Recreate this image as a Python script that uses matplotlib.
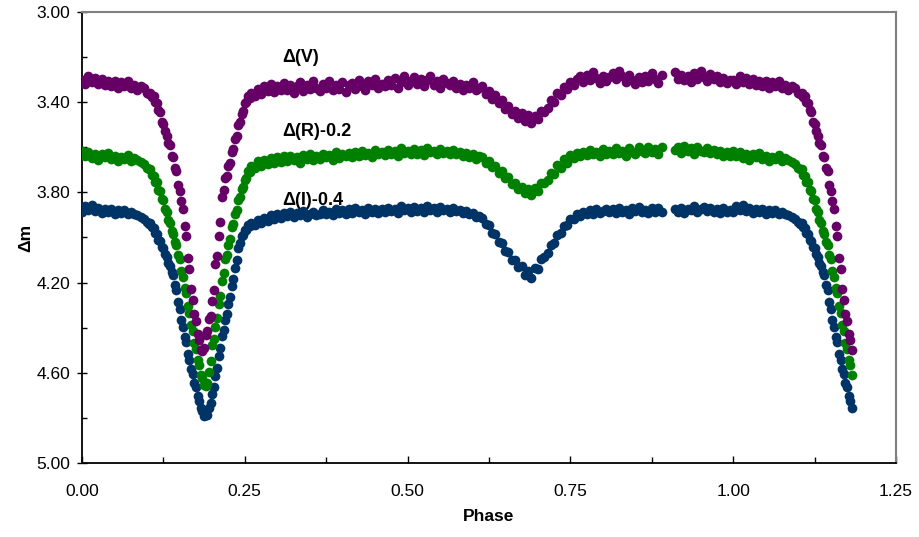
"""
Light curve of an eclipsing binary: V, R and I differential magnitudes vs phase.
"""

import matplotlib
matplotlib.use("Agg")
import matplotlib.pyplot as plt
from matplotlib.ticker import FormatStrFormatter, MultipleLocator

plt.rcParams["font.family"] = ["Liberation Sans", "DejaVu Sans"]

# --- data (phase 0..1, primary minimum repeated past 1.0) ---

# out of eclipse, before the primary minimum
phase_a = [0.000, 0.005, 0.010, 0.015, 0.020, 0.025, 0.030, 0.035, 0.040, 0.045,
           0.050, 0.055, 0.060, 0.065, 0.070, 0.075, 0.080, 0.085, 0.090, 0.095,
           0.100]
v_a = [3.300, 3.318, 3.282, 3.312, 3.292, 3.318, 3.298, 3.325, 3.305, 3.330,
       3.308, 3.335, 3.312, 3.328, 3.305, 3.338, 3.322, 3.345, 3.330, 3.338,
       3.360]
r_a = [3.615, 3.640, 3.622, 3.648, 3.628, 3.655, 3.630, 3.645, 3.625, 3.652,
       3.638, 3.660, 3.642, 3.650, 3.635, 3.662, 3.648, 3.655, 3.665, 3.672,
       3.690]
i_a = [3.885, 3.862, 3.878, 3.858, 3.882, 3.870, 3.892, 3.875, 3.888, 3.872,
       3.895, 3.880, 3.890, 3.878, 3.898, 3.885, 3.895, 3.902, 3.910, 3.918,
       3.932]

# primary minimum, denser sampling
phase_b = [0.1025, 0.1050, 0.1075, 0.1100, 0.1125, 0.1150, 0.1175, 0.1200, 0.1225, 0.1250,
           0.1275, 0.1300, 0.1325, 0.1350, 0.1375, 0.1400, 0.1425, 0.1450, 0.1475, 0.1500,
           0.1525, 0.1550, 0.1575, 0.1600, 0.1625, 0.1650, 0.1675, 0.1700, 0.1725, 0.1750,
           0.1775, 0.1800, 0.1825, 0.1850, 0.1875, 0.1900, 0.1925, 0.1950, 0.1975, 0.2000,
           0.2025, 0.2050, 0.2075, 0.2100, 0.2125, 0.2150, 0.2175, 0.2200, 0.2225, 0.2250,
           0.2275, 0.2300, 0.2325, 0.2350, 0.2375, 0.2400, 0.2425, 0.2450, 0.2475, 0.2500,
           0.2525, 0.2550, 0.2575, 0.2600]
v_b = [3.362, 3.358, 3.378, 3.372, 3.398, 3.402, 3.435, 3.442, 3.490, 3.495,
       3.528, 3.548, 3.580, 3.592, 3.640, 3.645, 3.690, 3.705, 3.768, 3.795,
       3.840, 3.875, 3.950, 3.995, 4.090, 4.140, 4.230, 4.275, 4.340, 4.372,
       4.430, 4.455, 4.500, 4.505, 4.490, 4.432, 4.415, 4.362, 4.348, 4.282,
       4.232, 4.118, 4.080, 3.992, 3.930, 3.822, 3.790, 3.735, 3.728, 3.682,
       3.668, 3.622, 3.608, 3.562, 3.548, 3.502, 3.488, 3.452, 3.438, 3.402,
       3.400, 3.372, 3.382, 3.358]
r_b = [3.695, 3.698, 3.722, 3.728, 3.752, 3.755, 3.788, 3.795, 3.828, 3.835,
       3.872, 3.885, 3.922, 3.935, 3.972, 3.985, 4.022, 4.035, 4.078, 4.095,
       4.148, 4.175, 4.222, 4.245, 4.302, 4.335, 4.388, 4.415, 4.468, 4.495,
       4.542, 4.565, 4.608, 4.625, 4.655, 4.658, 4.645, 4.595, 4.548, 4.475,
       4.448, 4.395, 4.358, 4.295, 4.258, 4.195, 4.158, 4.095, 4.078, 4.035,
       4.008, 3.955, 3.938, 3.895, 3.878, 3.835, 3.822, 3.785, 3.778, 3.745,
       3.738, 3.705, 3.708, 3.685]
i_b = [3.940, 3.935, 3.955, 3.958, 3.980, 3.985, 4.010, 4.015, 4.040, 4.045,
       4.075, 4.085, 4.115, 4.125, 4.155, 4.165, 4.210, 4.235, 4.285, 4.315,
       4.365, 4.395, 4.440, 4.465, 4.515, 4.545, 4.585, 4.605, 4.645, 4.665,
       4.705, 4.725, 4.755, 4.768, 4.790, 4.785, 4.785, 4.755, 4.735, 4.695,
       4.665, 4.615, 4.580, 4.525, 4.490, 4.435, 4.410, 4.365, 4.340, 4.295,
       4.265, 4.215, 4.185, 4.135, 4.100, 4.045, 4.025, 3.995, 3.990, 3.965,
       3.965, 3.945, 3.950, 3.935]

# rest of the cycle, secondary minimum near 0.69, small gap near 0.90
phase_c = [0.265, 0.270, 0.275, 0.280, 0.285, 0.290, 0.295, 0.300, 0.305, 0.310,
           0.315, 0.320, 0.325, 0.330, 0.335, 0.340, 0.345, 0.350, 0.355, 0.360,
           0.365, 0.370, 0.375, 0.380, 0.385, 0.390, 0.395, 0.400, 0.405, 0.410,
           0.415, 0.420, 0.425, 0.430, 0.435, 0.440, 0.445, 0.450, 0.455, 0.460,
           0.465, 0.470, 0.475, 0.480, 0.485, 0.490, 0.495, 0.500, 0.505, 0.510,
           0.515, 0.520, 0.525, 0.530, 0.535, 0.540, 0.545, 0.550, 0.555, 0.560,
           0.565, 0.570, 0.575, 0.580, 0.585, 0.590, 0.595, 0.600, 0.605, 0.610,
           0.615, 0.620, 0.625, 0.630, 0.635, 0.640, 0.645, 0.650, 0.655, 0.660,
           0.665, 0.670, 0.675, 0.680, 0.685, 0.690, 0.695, 0.700, 0.705, 0.710,
           0.715, 0.720, 0.725, 0.730, 0.735, 0.740, 0.745, 0.750, 0.755, 0.760,
           0.765, 0.770, 0.775, 0.780, 0.785, 0.790, 0.795, 0.800, 0.805, 0.810,
           0.815, 0.820, 0.825, 0.830, 0.835, 0.840, 0.845, 0.850, 0.855, 0.860,
           0.865, 0.870, 0.875, 0.880, 0.885, 0.890, 0.910,
           0.915, 0.920, 0.925, 0.930, 0.935, 0.940, 0.945, 0.950, 0.955, 0.960,
           0.965, 0.970, 0.975, 0.980, 0.985, 0.990, 0.995]
v_c = [3.372, 3.340, 3.365, 3.328, 3.352, 3.318, 3.355, 3.330, 3.348, 3.315,
       3.345, 3.322, 3.360, 3.330, 3.312, 3.350, 3.325, 3.342, 3.308, 3.338,
       3.352, 3.318, 3.335, 3.305, 3.345, 3.322, 3.340, 3.310, 3.355, 3.325,
       3.315, 3.340, 3.302, 3.330, 3.345, 3.308, 3.325, 3.295, 3.338, 3.318,
       3.330, 3.300, 3.322, 3.292, 3.338, 3.310, 3.285, 3.325, 3.305, 3.290,
       3.318, 3.295, 3.330, 3.302, 3.285, 3.322, 3.308, 3.338, 3.298, 3.315,
       3.325, 3.305, 3.335, 3.318, 3.345, 3.322, 3.338, 3.310, 3.348, 3.335,
       3.330, 3.365, 3.352, 3.385, 3.368, 3.402, 3.390, 3.432, 3.418, 3.452,
       3.438, 3.470, 3.448, 3.485, 3.455, 3.492, 3.460, 3.475, 3.440, 3.445,
       3.425, 3.392, 3.398, 3.360, 3.368, 3.332, 3.342, 3.310, 3.322, 3.295,
       3.285, 3.310, 3.278, 3.300, 3.268, 3.292, 3.315, 3.282, 3.305, 3.288,
       3.270, 3.298, 3.262, 3.285, 3.310, 3.278, 3.302, 3.320, 3.290, 3.312,
       3.285, 3.305, 3.272, 3.298, 3.315, 3.280, 3.268,
       3.295, 3.278, 3.302, 3.285, 3.312, 3.270, 3.296, 3.262, 3.288, 3.305,
       3.275, 3.298, 3.285, 3.310, 3.292, 3.315, 3.300]
r_c = [3.690, 3.662, 3.682, 3.655, 3.675, 3.648, 3.668, 3.645, 3.665, 3.640,
       3.660, 3.638, 3.655, 3.642, 3.668, 3.635, 3.652, 3.630, 3.658, 3.640,
       3.650, 3.628, 3.645, 3.635, 3.655, 3.622, 3.648, 3.630, 3.640, 3.625,
       3.642, 3.620, 3.638, 3.615, 3.635, 3.625, 3.645, 3.612, 3.630, 3.622,
       3.635, 3.610, 3.628, 3.618, 3.638, 3.605, 3.625, 3.615, 3.632, 3.608,
       3.628, 3.612, 3.635, 3.605, 3.622, 3.615, 3.632, 3.608, 3.625, 3.618,
       3.630, 3.612, 3.628, 3.620, 3.638, 3.625, 3.642, 3.630, 3.650, 3.640,
       3.645, 3.668, 3.660, 3.688, 3.682, 3.712, 3.705, 3.738, 3.730, 3.762,
       3.758, 3.785, 3.775, 3.802, 3.785, 3.810, 3.782, 3.795, 3.760, 3.758,
       3.745, 3.712, 3.718, 3.680, 3.690, 3.652, 3.668, 3.635, 3.648, 3.625,
       3.640, 3.620, 3.635, 3.612, 3.630, 3.622, 3.640, 3.608, 3.628, 3.615,
       3.632, 3.605, 3.625, 3.615, 3.638, 3.602, 3.620, 3.630, 3.598, 3.618,
       3.625, 3.600, 3.620, 3.608, 3.630, 3.598, 3.612,
       3.600, 3.625, 3.595, 3.618, 3.605, 3.628, 3.598, 3.615, 3.622, 3.605,
       3.625, 3.610, 3.632, 3.618, 3.638, 3.622, 3.640]
i_c = [3.945, 3.922, 3.935, 3.912, 3.925, 3.902, 3.918, 3.895, 3.912, 3.890,
       3.905, 3.888, 3.910, 3.892, 3.902, 3.882, 3.908, 3.895, 3.885, 3.900,
       3.898, 3.878, 3.895, 3.885, 3.902, 3.872, 3.890, 3.880, 3.895, 3.875,
       3.892, 3.870, 3.888, 3.878, 3.895, 3.868, 3.885, 3.875, 3.890, 3.872,
       3.885, 3.868, 3.882, 3.872, 3.890, 3.862, 3.880, 3.870, 3.885, 3.865,
       3.882, 3.868, 3.888, 3.862, 3.878, 3.870, 3.885, 3.865, 3.880, 3.872,
       3.885, 3.870, 3.882, 3.878, 3.890, 3.882, 3.898, 3.892, 3.910, 3.905,
       3.912, 3.942, 3.945, 3.978, 3.985, 4.018, 4.025, 4.058, 4.065, 4.098,
       4.098, 4.130, 4.125, 4.165, 4.150, 4.178, 4.135, 4.140, 4.095, 4.088,
       4.068, 4.032, 4.025, 3.988, 3.982, 3.948, 3.945, 3.918, 3.920, 3.898,
       3.905, 3.888, 3.898, 3.880, 3.895, 3.875, 3.890, 3.882, 3.872, 3.888,
       3.875, 3.892, 3.868, 3.885, 3.878, 3.895, 3.870, 3.882, 3.865, 3.888,
       3.878, 3.892, 3.870, 3.885, 3.868, 3.888, 3.875,
       3.885, 3.868, 3.890, 3.872, 3.880, 3.862, 3.888, 3.875, 3.865, 3.882,
       3.870, 3.888, 3.875, 3.892, 3.868, 3.885, 3.878]

labels = ["Δ(V)", "Δ(R)-0.2", "Δ(I)-0.4"]
colors = ["#660066", "#008000", "#003366"]
label_pos = [(0.307, 3.20), (0.307, 3.528), (0.307, 3.834)]

y_major = [3.00, 3.40, 3.80, 4.20, 4.60, 5.00]
y_minor = [3.20, 3.60, 4.00, 4.40, 4.80]


def folded(phase, mags, repeat_to=0.1825):
    """Add the start of the next cycle so the curve runs past phase 1."""
    x = list(phase) + [p + 1.0 for p in phase if p <= repeat_to]
    y = list(mags) + [m for p, m in zip(phase, mags) if p <= repeat_to]
    return x, y


def main():
    phase = phase_a + phase_b + phase_c
    series = [v_a + v_b + v_c, r_a + r_b + r_c, i_a + i_b + i_c]
    for s in series:
        assert len(s) == len(phase)

    fig = plt.figure(figsize=(9.19, 5.37), dpi=100)
    ax = fig.add_axes([0.0892, 0.1378, 0.8857, 0.8399])

    # I first, V on top
    for mags, col, z in zip(series[::-1], colors[::-1], [3, 4, 5]):
        x, y = folded(phase, mags)
        ax.plot(x, y, linestyle="none", marker="o", markersize=7,
                markerfacecolor=col, markeredgewidth=0, zorder=z)

    for text, (tx, ty) in zip(labels, label_pos):
        ax.text(tx, ty, text, fontsize=13, fontweight="bold", va="center",
                ha="left", zorder=2)

    ax.set_xlim(0, 1.25)
    ax.set_ylim(5.0, 3.0)

    ax.xaxis.set_major_locator(MultipleLocator(0.25))
    ax.xaxis.set_minor_locator(MultipleLocator(0.125))
    ax.set_yticks(y_major)
    ax.set_yticks(y_minor, minor=True)
    ax.xaxis.set_major_formatter(FormatStrFormatter("%.2f"))
    ax.yaxis.set_major_formatter(FormatStrFormatter("%.2f"))

    ax.tick_params(axis="x", which="major", direction="in", length=5, width=1,
                   pad=15, labelsize=12.5)
    ax.tick_params(axis="x", which="minor", direction="in", length=4, width=1)
    ax.tick_params(axis="y", which="major", direction="inout", length=7, width=1,
                   pad=5, labelsize=12.5)
    ax.tick_params(axis="y", which="minor", direction="in", length=3.5, width=1)

    for side in ["left", "bottom"]:
        ax.spines[side].set_color("black")
        ax.spines[side].set_linewidth(1.3)
    for side in ["top", "right"]:
        ax.spines[side].set_color("#808080")
        ax.spines[side].set_linewidth(1.5)

    ax.set_xlabel("Phase", fontsize=12.5, fontweight="bold", labelpad=7)
    ax.set_ylabel("Δm", fontsize=12.5, fontweight="bold", labelpad=2)

    fig.savefig("out.png", dpi=100)


if __name__ == "__main__":
    main()
